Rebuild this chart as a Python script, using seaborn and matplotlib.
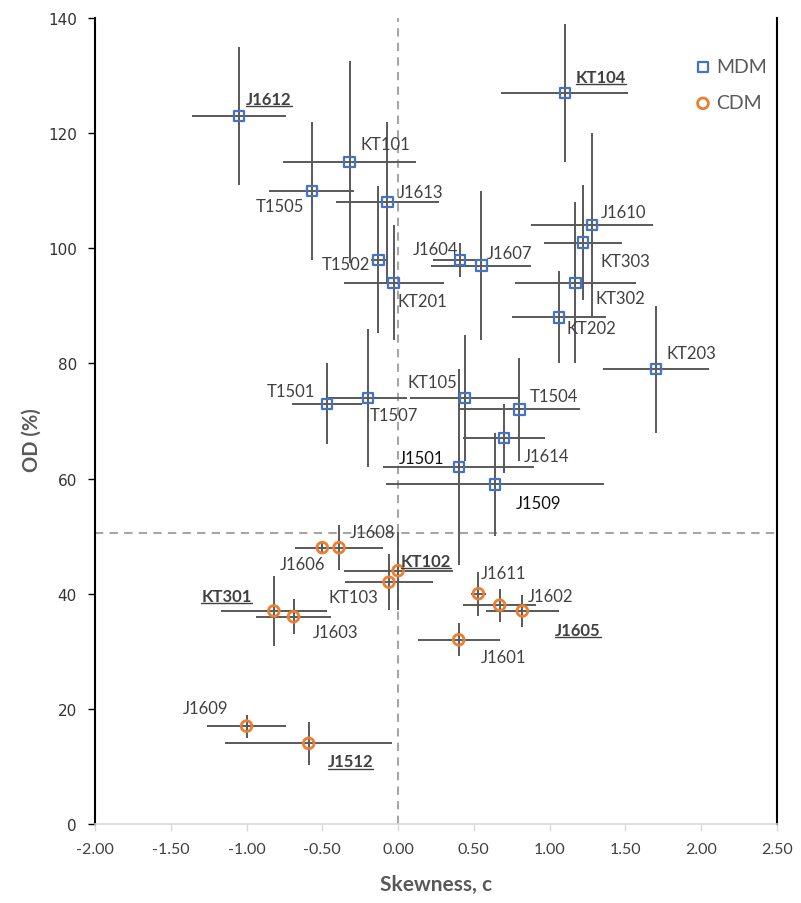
import matplotlib
matplotlib.use("Agg")
import matplotlib.pyplot as plt
import seaborn as sns
import pandas as pd
from matplotlib.lines import Line2D

# ---- MDM samples ----
mdm_names = ["J1612", "KT101", "T1505", "J1613", "T1502", "KT201", "J1604", "J1607",
             "KT104", "J1610", "KT303", "KT302", "KT202", "KT203", "T1501", "T1507",
             "KT105", "T1504", "J1614", "J1501", "J1509"]
mdm_skew = [-1.05, -0.32, -0.57, -0.07, -0.13, -0.03, 0.41, 0.55,
            1.10, 1.28, 1.22, 1.17, 1.06, 1.70, -0.47, -0.20,
            0.44, 0.80, 0.70, 0.40, 0.64]
mdm_skew_err = [0.31, 0.44, 0.28, 0.34, 0.05, 0.33, 0.18, 0.33,
                0.42, 0.40, 0.26, 0.40, 0.31, 0.35, 0.23, 0.26,
                0.36, 0.40, 0.27, 0.50, 0.72]
mdm_od = [123, 115, 110, 108, 98, 94, 98, 97,
          127, 104, 101, 94, 88, 79, 73, 74,
          74, 72, 67, 62, 59]
mdm_od_err = [12, 17.5, 12, 14, 12.8, 10, 3, 13,
              12, 16, 10, 14, 8, 11, 7, 12,
              11, 9, 6, 17, 9]

# ---- CDM samples ----
cdm_names = ["J1608", "J1606", "KT102", "KT103", "KT301", "J1603",
             "J1611", "J1602", "J1605", "J1601", "J1609", "J1512"]
cdm_skew = [-0.39, -0.50, 0.00, -0.06, -0.82, -0.69,
            0.53, 0.67, 0.82, 0.40, -1.00, -0.59]
cdm_skew_err = [0.29, 0.05, 0.36, 0.29, 0.35, 0.25,
                0.05, 0.24, 0.24, 0.27, 0.26, 0.55]
cdm_od = [48, 48, 44, 42, 37, 36,
          40, 38, 37, 32, 17, 14]
cdm_od_err = [3.9, 1.0, 6.8, 4.9, 6.0, 3.0,
              3.8, 2.9, 2.8, 2.9, 2.0, 3.8]

# reference lines
skew_ref = 0.0
od_ref = 50.6

# axis ticks
x_ticks = [-2.0, -1.5, -1.0, -0.5, 0.0, 0.5, 1.0, 1.5, 2.0, 2.5]
y_ticks = [0, 20, 40, 60, 80, 100, 120, 140]

# highlighted sample names (bold, underlined)
highlight = {"J1612", "KT104", "KT102", "KT301", "J1605", "J1512"}
dark_names = {"J1501", "J1509"}

# label placement (pixel offsets from the marker, horizontal alignment)
label_pos = {
    "J1612": (7, 17, "left"), "KT101": (11, 18, "left"), "T1505": (-8, -15, "right"),
    "J1613": (10, 10, "left"), "T1502": (-8, -4, "right"), "KT201": (4, -18, "left"),
    "J1604": (-2, 11, "right"), "J1607": (5, 13, "left"), "KT104": (11, 16, "left"),
    "J1610": (9, 13, "left"), "KT303": (18, -18, "left"), "KT302": (20, -15, "left"),
    "KT202": (8, -11, "left"), "KT203": (11, 16, "left"), "T1501": (-12, 13, "right"),
    "T1507": (2, -17, "left"), "KT105": (-8, 16, "right"), "T1504": (10, 13, "left"),
    "J1614": (20, -18, "left"), "J1501": (-14, 9, "right"), "J1509": (21, -19, "left"),
    "J1608": (11, 16, "left"), "J1606": (3, -16, "right"), "KT102": (3, 10, "left"),
    "KT103": (-11, -15, "right"), "KT301": (-22, 15, "right"), "J1603": (19, -15, "left"),
    "J1611": (2, 21, "left"), "J1602": (28, 9, "left"), "J1605": (33, -19, "left"),
    "J1601": (22, -17, "left"), "J1609": (-18, 18, "right"), "J1512": (19, -18, "left"),
}

mdm = pd.DataFrame({"name": mdm_names, "skew": mdm_skew, "skew_err": mdm_skew_err,
                    "od": mdm_od, "od_err": mdm_od_err})
cdm = pd.DataFrame({"name": cdm_names, "skew": cdm_skew, "skew_err": cdm_skew_err,
                    "od": cdm_od, "od_err": cdm_od_err})

sns.set_theme(style="white")
plt.rcParams["font.family"] = ["Lato", "DejaVu Sans"]
plt.rcParams["axes.unicode_minus"] = False

BLUE = "#4472C4"
ORANGE = "#ED7D31"
BAR = "#595959"
TXT = "#404040"

fig = plt.figure(figsize=(8.01, 9.04), dpi=100)
ax = fig.add_axes([0.1186, 0.0874, 0.8514, 0.8916])

# dashed reference lines
ax.axvline(skew_ref, color="#A6A6A6", lw=1.5, ls=(0, (4, 3)), zorder=1)
ax.axhline(od_ref, color="#A6A6A6", lw=1.5, ls=(0, (4, 3)), zorder=1)

# error bars
for df in (mdm, cdm):
    ax.errorbar(df["skew"], df["od"], xerr=df["skew_err"], yerr=df["od_err"],
                fmt="none", ecolor=BAR, elinewidth=1.4, capsize=0, zorder=2)

# markers
sns.scatterplot(data=mdm, x="skew", y="od", marker="s", s=56, facecolor="none",
                edgecolor=BLUE, color=BLUE, linewidth=1.6, label="MDM", ax=ax, zorder=3)
sns.scatterplot(data=cdm, x="skew", y="od", marker="o", s=60, facecolor="none",
                edgecolor=ORANGE, color=ORANGE, linewidth=2.0, label="CDM", ax=ax, zorder=3)

# data labels
texts_to_underline = []
for df in (mdm, cdm):
    for _, r in df.iterrows():
        dx, dy, ha = label_pos[r["name"]]
        bold = r["name"] in highlight
        color = "#111111" if r["name"] in dark_names else TXT
        t = ax.annotate(r["name"], (r["skew"], r["od"]), xytext=(dx, dy),
                        textcoords="offset pixels", ha=ha, va="center",
                        fontsize=12, color=color,
                        fontweight="bold" if bold else "normal", zorder=4)
        if bold:
            texts_to_underline.append(t)

ax.set_xlim(x_ticks[0], x_ticks[-1])
ax.set_ylim(y_ticks[0], y_ticks[-1])
ax.set_xticks(x_ticks)
ax.set_xticklabels([f"{v:.2f}" for v in x_ticks], fontsize=11.5, color=TXT)
ax.set_yticks(y_ticks)
ax.set_yticklabels([str(v) for v in y_ticks], fontsize=11, color="#333333",
                   family="DejaVu Sans")

ax.set_xlabel("Skewness, c", fontsize=15, fontweight="bold", color="#595959", labelpad=13)
ax.set_ylabel("OD (%)", fontsize=14.5, fontweight="bold", color="#595959")
ax.yaxis.set_label_coords(-0.078, 0.478)

for side in ("left", "right"):
    ax.spines[side].set_color("black")
    ax.spines[side].set_linewidth(1.5)
ax.spines["top"].set_visible(False)
ax.spines["bottom"].set_color("#D9D9D9")
ax.spines["bottom"].set_linewidth(1.2)
ax.tick_params(axis="y", which="major", direction="out", length=5, width=1,
               color="black", left=True, pad=8)
ax.tick_params(axis="x", which="major", direction="out", length=5, width=1,
               color="#D9D9D9", bottom=True, pad=8)
ax.grid(False)

leg = ax.legend(loc="upper left", bbox_to_anchor=(0.863, 0.96), frameon=False,
                fontsize=14, labelspacing=1.0, handletextpad=0.1, handlelength=1.2,
                borderaxespad=0)
for t in leg.get_texts():
    t.set_color("#595959")

# underline the highlighted labels
fig.canvas.draw()
renderer = fig.canvas.get_renderer()
inv = fig.transFigure.inverted()
for t in texts_to_underline:
    bb = t.get_window_extent(renderer)
    y_line = bb.y0 + 0.5
    (x0, y0), (x1, y1) = inv.transform([(bb.x0, y_line), (bb.x1, y_line)])
    fig.add_artist(Line2D([x0, x1], [y0, y1], transform=fig.transFigure,
                          color=TXT, lw=1.0))

fig.savefig("out.png", dpi=100)
